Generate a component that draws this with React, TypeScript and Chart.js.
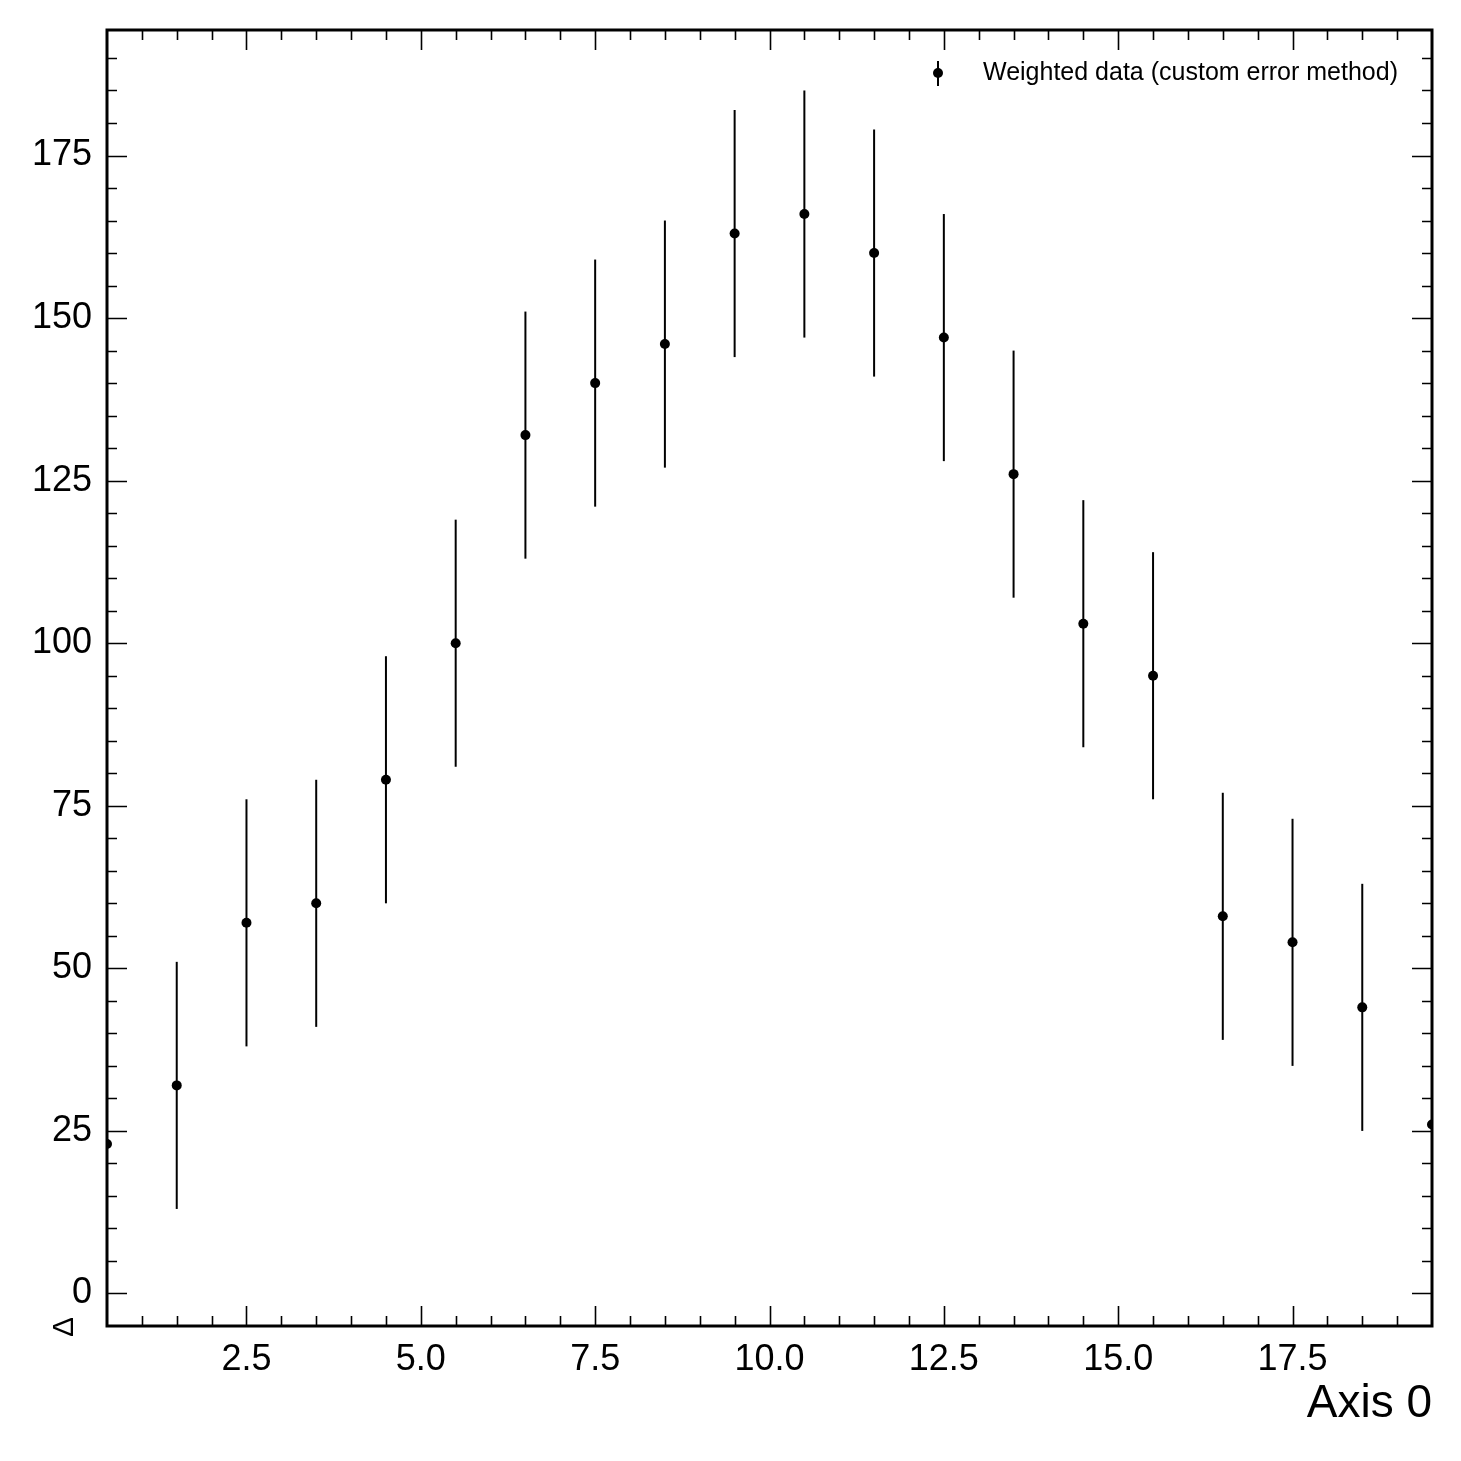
import React, { useEffect, useRef } from "react";
import { Chart, registerables } from "chart.js";

Chart.register(...registerables);

const binCenters = [0.5, 1.5, 2.5, 3.5, 4.5, 5.5, 6.5, 7.5, 8.5, 9.5, 10.5, 11.5, 12.5, 13.5, 14.5, 15.5, 16.5, 17.5, 18.5, 19.5];
const counts = [23, 32, 57, 60, 79, 100, 132, 140, 146, 163, 166, 160, 147, 126, 103, 95, 58, 54, 44, 26];
const errors = [19, 19, 19, 19, 19, 19, 19, 19, 19, 19, 19, 19, 19, 19, 19, 19, 19, 19, 19, 19];
const xTickValues = [2.5, 5.0, 7.5, 10.0, 12.5, 15.0, 17.5];
const yTickValues = [0, 25, 50, 75, 100, 125, 150, 175];
const legendLabel = "Weighted data (custom error method)";
const xTitle = "Axis 0";
const yTitle = "Δ";

const FONT = "'Liberation Sans', Arial, Helvetica, sans-serif";

const decorPlugin = {
  id: "decor",
  beforeDatasetsDraw(chart: any) {
    const { ctx, chartArea } = chart;
    const xs = chart.scales.x;
    const ys = chart.scales.y;
    ctx.save();
    ctx.beginPath();
    ctx.rect(chartArea.left, chartArea.top, chartArea.right - chartArea.left, chartArea.bottom - chartArea.top);
    ctx.clip();
    ctx.strokeStyle = "#000";
    ctx.lineWidth = 2;
    for (let i = 0; i < binCenters.length; i++) {
      const px = xs.getPixelForValue(binCenters[i]);
      const y1 = ys.getPixelForValue(counts[i] - errors[i]);
      const y2 = ys.getPixelForValue(counts[i] + errors[i]);
      ctx.beginPath();
      ctx.moveTo(px, y1);
      ctx.lineTo(px, y2);
      ctx.stroke();
    }
    ctx.restore();
  },
  afterDraw(chart: any) {
    const { ctx, chartArea } = chart;
    const { left, right, top, bottom } = chartArea;
    const xs = chart.scales.x;
    const ys = chart.scales.y;
    ctx.save();
    ctx.strokeStyle = "#000";
    ctx.lineWidth = 1.6;
    const major = 20;
    const minor = 10;
    const xStep = 0.5;
    for (let v = Math.ceil(xs.min / xStep) * xStep; v <= xs.max + 1e-9; v += xStep) {
      const isMajor = Math.abs(v / 2.5 - Math.round(v / 2.5)) < 1e-6;
      const len = isMajor ? major : minor;
      const px = Math.round(xs.getPixelForValue(v)) + 0.5;
      if (px <= left + 1 || px >= right - 1) continue;
      ctx.beginPath();
      ctx.moveTo(px, bottom);
      ctx.lineTo(px, bottom - len);
      ctx.moveTo(px, top);
      ctx.lineTo(px, top + len);
      ctx.stroke();
    }
    const yStep = 5;
    for (let v = Math.ceil(ys.min / yStep) * yStep; v <= ys.max + 1e-9; v += yStep) {
      const isMajor = Math.abs(v / 25 - Math.round(v / 25)) < 1e-6;
      const len = isMajor ? major : minor;
      const py = Math.round(ys.getPixelForValue(v)) + 0.5;
      if (py <= top + 1 || py >= bottom - 1) continue;
      ctx.beginPath();
      ctx.moveTo(left, py);
      ctx.lineTo(left + len, py);
      ctx.moveTo(right, py);
      ctx.lineTo(right - len, py);
      ctx.stroke();
    }
    ctx.lineWidth = 3;
    ctx.strokeRect(left, top, right - left, bottom - top);

    // legend
    ctx.font = `25px ${FONT}`;
    ctx.fillStyle = "#000";
    ctx.textBaseline = "middle";
    ctx.textAlign = "left";
    const tw = ctx.measureText(legendLabel).width;
    const ly = top + 43;
    const tx = right - 34 - tw;
    ctx.fillText(legendLabel, tx, ly);
    const mx = tx - 45;
    ctx.lineWidth = 2;
    ctx.beginPath();
    ctx.moveTo(mx, ly - 12);
    ctx.lineTo(mx, ly + 13);
    ctx.stroke();
    ctx.beginPath();
    ctx.arc(mx, ly, 5, 0, Math.PI * 2);
    ctx.fill();

    // y title (rotated)
    ctx.save();
    ctx.translate(left - 34, bottom + 11);
    ctx.rotate(-Math.PI / 2);
    ctx.font = `30px ${FONT}`;
    ctx.textAlign = "left";
    ctx.textBaseline = "alphabetic";
    ctx.fillText(yTitle, 0, 0);
    ctx.restore();

    ctx.restore();
  },
};

export default function App() {
  const ref = useRef<HTMLCanvasElement | null>(null);
  useEffect(() => {
    if (!ref.current) return;
    const chart = new Chart(ref.current, {
      type: "scatter",
      data: {
        datasets: [
          {
            label: legendLabel,
            data: binCenters.map((x, i) => ({ x, y: counts[i] })),
            backgroundColor: "#000",
            borderColor: "#000",
            pointRadius: 5,
            pointHoverRadius: 5,
            borderWidth: 0,
            clip: 0,
          } as any,
        ],
      },
      options: {
        animation: false,
        responsive: false,
        devicePixelRatio: 1,
        events: [],
        layout: { padding: { top: 30, right: 29, left: 0, bottom: 0 } },
        plugins: {
          legend: { display: false },
          tooltip: { enabled: false },
          title: { display: false },
        },
        scales: {
          x: {
            type: "linear",
            min: 0.5,
            max: 19.5,
            grid: { display: false, drawTicks: false },
            border: { display: false },
            afterBuildTicks: (scale: any) => {
              scale.ticks = xTickValues.map((v) => ({ value: v }));
            },
            afterFit: (scale: any) => {
              scale.height = 135;
              scale.paddingLeft = 0;
              scale.paddingRight = 0;
              scale.paddingTop = 0;
              scale.paddingBottom = 0;
            },
            ticks: {
              padding: 12,
              color: "#000",
              font: { family: FONT, size: 36 },
              maxRotation: 0,
              autoSkip: false,
              callback: (v: any) => Number(v).toFixed(1),
            },
            title: {
              display: true,
              text: xTitle,
              align: "end",
              color: "#000",
              font: { family: FONT, size: 46 },
              padding: { top: 0, bottom: 29 },
            },
          },
          y: {
            type: "linear",
            min: -5,
            max: 194.3,
            grid: { display: false, drawTicks: false },
            border: { display: false },
            afterBuildTicks: (scale: any) => {
              scale.ticks = yTickValues.map((v) => ({ value: v }));
            },
            afterFit: (scale: any) => {
              scale.width = 107;
              scale.paddingLeft = 0;
              scale.paddingRight = 0;
              scale.paddingTop = 0;
              scale.paddingBottom = 0;
            },
            ticks: {
              padding: 15,
              color: "#000",
              font: { family: FONT, size: 36 },
              autoSkip: false,
              callback: (v: any) => String(v),
            },
          },
        },
      },
      plugins: [decorPlugin],
    });
    return () => chart.destroy();
  }, []);
  return (
    <div style={{ position: "absolute", left: 0, top: 0, width: 1461, height: 1461, background: "#fff" }}>
      <canvas ref={ref} width={1461} height={1461} style={{ width: 1461, height: 1461, display: "block" }} />
    </div>
  );
}
